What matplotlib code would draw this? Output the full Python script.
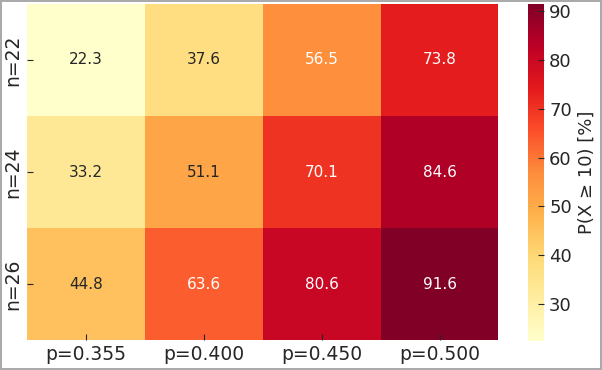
import numpy as np
import pandas as pd
import matplotlib
matplotlib.use('Agg')
import matplotlib.pyplot as plt
import seaborn as sns

# P(X >= 10) in percent, rows = n, columns = p
n_labels = ['n=22', 'n=24', 'n=26']
p_labels = ['p=0.355', 'p=0.400', 'p=0.450', 'p=0.500']
row_n22 = [22.3, 37.6, 56.5, 73.8]
row_n24 = [33.2, 51.1, 70.1, 84.6]
row_n26 = [44.8, 63.6, 80.6, 91.6]

df = pd.DataFrame([row_n22, row_n24, row_n26], index=n_labels, columns=p_labels)

plt.rcParams['xtick.direction'] = 'in'
plt.rcParams['ytick.direction'] = 'in'
plt.rcParams['font.family'] = 'DejaVu Sans'
plt.rcParams['text.color'] = '#262626'
plt.rcParams['axes.labelcolor'] = '#262626'
plt.rcParams['xtick.labelcolor'] = '#262626'
plt.rcParams['ytick.labelcolor'] = '#262626'

fig = plt.figure(figsize=(6.02, 3.70), dpi=100)
fig.patch.set_edgecolor('#aaaaaa')
fig.patch.set_linewidth(1.5)
ax = fig.add_axes([0.045, 0.08, 0.783, 0.91])
cax = fig.add_axes([0.877, 0.078, 0.027, 0.912])

sns.heatmap(df, cmap='YlOrRd', annot=True, fmt='.1f', ax=ax, cbar_ax=cax,
            annot_kws={'fontsize': 11},
            cbar_kws={'label': 'P(X ≥ 10) [%]'})

ax.tick_params(axis='both', labelsize=13.5, length=4, color='#262626')
ax.set_yticklabels(n_labels, rotation=90, va='center')
ax.set_xticklabels(p_labels, rotation=0)
ax.set_xlabel('')
ax.set_ylabel('')
cax.tick_params(labelsize=13, length=4, direction='in', color='#262626')
cax.yaxis.label.set_size(13)

fig.savefig('out.png', dpi=100)
